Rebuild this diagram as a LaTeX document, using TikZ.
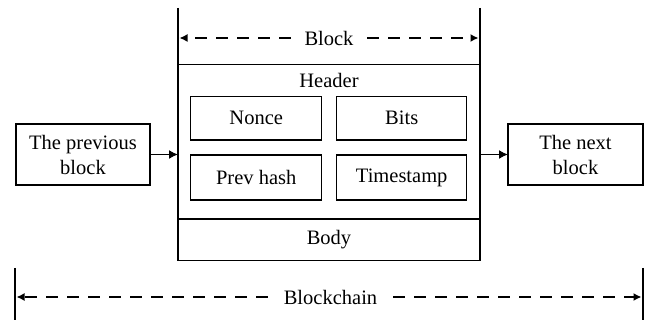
\documentclass[tikz,border=0pt]{standalone}
\usepackage{fontspec}
\setmainfont{Liberation Serif}
\usetikzlibrary{arrows.meta}
\begin{document}
\begin{tikzpicture}[x=1pt,y=-1pt,
  every node/.style={font=\fontsize{20.5}{25}\selectfont, inner sep=0pt, outer sep=0pt},
  box/.style={draw, line width=1.5pt, align=center},
  ln/.style={line width=1.5pt},
  conn/.style={line width=1.5pt, -{Latex[length=9pt,width=9pt]}},
  dimarrow/.style={line width=1.5pt, dash pattern=on 12pt off 9pt, -{Latex[length=8pt,width=8pt]}}
]
\useasboundingbox (0,0) rectangle (653,320);

% outer block
\node[box, minimum width=302pt, minimum height=196pt] (blockbox) at (329,162.5) {};
\coordinate (divL) at (178,219);
\coordinate (divR) at (480,219);
\draw[ln] (divL) -- (divR);
\node (header) at (329,80) {Header};
\node (body) at (329,240) {Body};

% inner fields
\node[box, minimum width=131pt, minimum height=43.3pt] (nonce) at (256.2,118.3) {Nonce};
\node[box, minimum width=130pt, minimum height=43.3pt] (bits) at (401.7,118.3) {Bits};
\node[box, minimum width=131pt, minimum height=45pt] (prevhash) at (256.2,177.5) {Prev hash};
\node[box, minimum width=130pt, minimum height=45pt] (timestamp) at (401.7,177.5) {Timestamp};

% neighbours
\node[box, minimum width=134pt, minimum height=61pt] (prev) at (83,154.5) {The previous\\block};
\node[box, minimum width=135pt, minimum height=61pt] (next) at (575.5,154.5) {The next\\block};

\draw[conn] (prev.east) -- (prev.east -| blockbox.west);
\draw[conn] (next.west -| blockbox.east) -- (next.west);

% Block dimension
\coordinate (vlt) at (178,8);
\coordinate (vrt) at (480,8);
\draw[ln] (vlt) -- (blockbox.north west);
\draw[ln] (vrt) -- (blockbox.north east);
\node[inner xsep=14pt] (blocklabel) at (329,38) {Block};
\coordinate (bla) at (179.5,38);
\coordinate (bra) at (478.5,38);
\draw[dimarrow] (blocklabel.west) -- (bla);
\draw[dimarrow] (blocklabel.east) -- (bra);

% Blockchain dimension
\coordinate (cl1) at (15,268);
\coordinate (cl2) at (15,320);
\coordinate (cr1) at (643,268);
\coordinate (cr2) at (643,320);
\draw[ln] (cl1) -- (cl2);
\draw[ln] (cr1) -- (cr2);
\node[inner xsep=16pt] (chainlabel) at (330.5,297) {Blockchain};
\coordinate (cla) at (16.5,297);
\coordinate (cra) at (641.5,297);
\draw[dimarrow] (chainlabel.west) -- (cla);
\draw[dimarrow] (chainlabel.east) -- (cra);
\end{tikzpicture}
\end{document}
